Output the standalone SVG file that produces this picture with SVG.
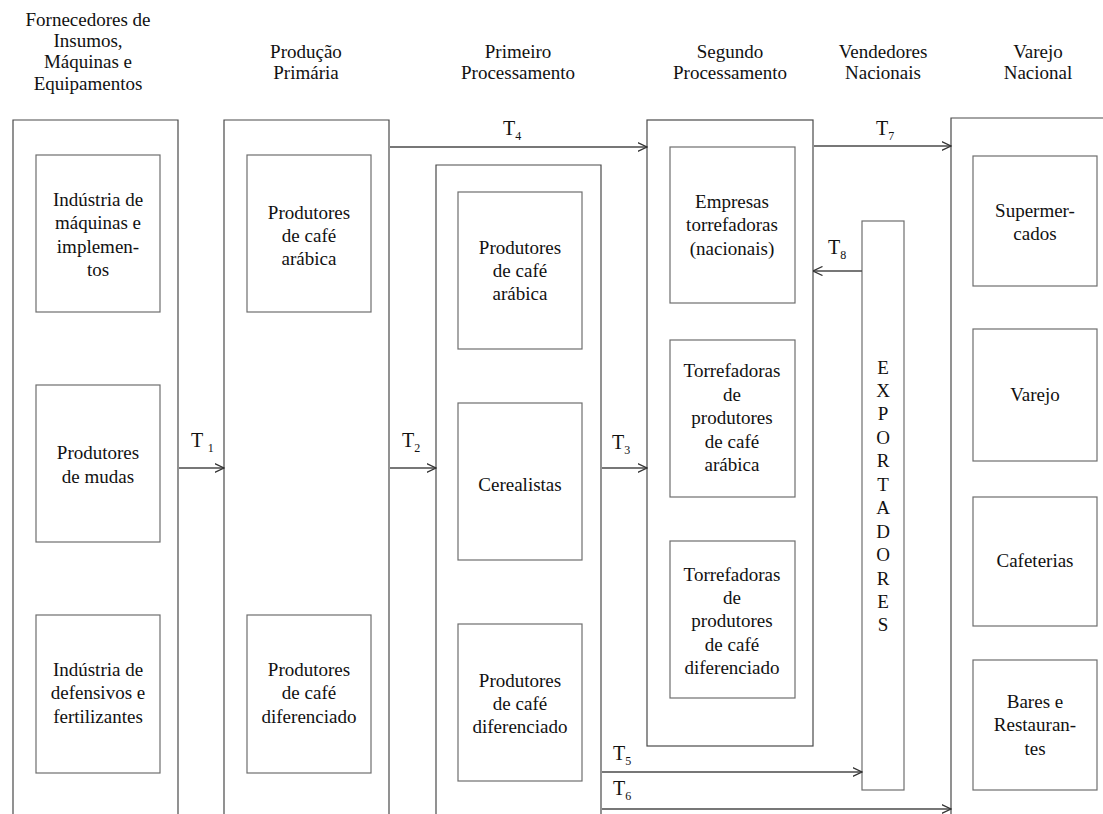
<svg xmlns="http://www.w3.org/2000/svg" width="1103" height="814" viewBox="0 0 1103 814" font-family="'Liberation Serif', Tinos, 'Times New Roman', Times, 'DejaVu Serif', serif">
  <defs>
    <style>
      text { font-family: "Liberation Serif", Tinos, "Times New Roman", Times, "DejaVu Serif", serif; fill: #111111; }
      .hd { font-size: 19px; text-anchor: middle; }
      .bx { font-size: 19px; text-anchor: middle; }
      .lb { font-size: 20px; }
      .sub { font-size: 12px; }
      .outer { fill: none; stroke: #4a4a4a; stroke-width: 1.2; }
      .inner { fill: #ffffff; stroke: #6e6e6e; stroke-width: 1.2; }
      .conn { fill: none; stroke: #4a4a4a; stroke-width: 1.3; marker-end: url(#chev); }
    </style>
    <marker id="chev" viewBox="0 0 10 10" refX="9.5" refY="5" markerWidth="10" markerHeight="10" markerUnits="userSpaceOnUse" orient="auto">
      <path d="M0,0.5 L9.5,5 L0,9.5" fill="none" stroke="#333" stroke-width="1.3"/>
    </marker>
  </defs>
  <rect width="1103" height="814" fill="#ffffff"/>

  <!-- column headings -->
  <g id="headings">
    <text class="hd" x="88" y="26">Fornecedores de</text>
    <text class="hd" x="88" y="47">Insumos,</text>
    <text class="hd" x="88" y="68">Máquinas e</text>
    <text class="hd" x="88" y="90">Equipamentos</text>
    <text class="hd" x="306" y="58">Produção</text>
    <text class="hd" x="306" y="79">Primária</text>
    <text class="hd" x="518" y="58">Primeiro</text>
    <text class="hd" x="518" y="79">Processamento</text>
    <text class="hd" x="730" y="58">Segundo</text>
    <text class="hd" x="730" y="79">Processamento</text>
    <text class="hd" x="883" y="58">Vendedores</text>
    <text class="hd" x="883" y="79">Nacionais</text>
    <text class="hd" x="1038" y="58">Varejo</text>
    <text class="hd" x="1038" y="79">Nacional</text>
  </g>

  <!-- Fornecedores de insumos -->
  <g id="col-fornecedores">
    <path class="outer" d="M13,820 V120 H178 V820"/>
    <g id="n-maquinas">
      <rect class="inner" x="36" y="155" width="124" height="157"/>
      <text class="bx" x="98" y="206">Indústria de</text>
      <text class="bx" x="98" y="229">máquinas e</text>
      <text class="bx" x="98" y="253">implemen-</text>
      <text class="bx" x="98" y="276">tos</text>
    </g>
    <g id="n-mudas">
      <rect class="inner" x="36" y="385" width="124" height="157"/>
      <text class="bx" x="98" y="459">Produtores</text>
      <text class="bx" x="98" y="483">de mudas</text>
    </g>
    <g id="n-defensivos">
      <rect class="inner" x="36" y="615" width="124" height="158"/>
      <text class="bx" x="98" y="676">Indústria de</text>
      <text class="bx" x="98" y="699">defensivos e</text>
      <text class="bx" x="98" y="723">fertilizantes</text>
    </g>
  </g>

  <!-- Produção primária -->
  <g id="col-producao">
    <path class="outer" d="M224,820 V120 H389 V820"/>
    <g id="n-prod-arabica">
      <rect class="inner" x="247" y="155" width="124" height="157"/>
      <text class="bx" x="309" y="219">Produtores</text>
      <text class="bx" x="309" y="242">de café</text>
      <text class="bx" x="309" y="265">arábica</text>
    </g>
    <g id="n-prod-diferenciado">
      <rect class="inner" x="247" y="615" width="124" height="158"/>
      <text class="bx" x="309" y="676">Produtores</text>
      <text class="bx" x="309" y="699">de café</text>
      <text class="bx" x="309" y="723">diferenciado</text>
    </g>
  </g>

  <!-- Primeiro processamento -->
  <g id="col-primeiro">
    <path class="outer" d="M436,820 V165 H601 V820"/>
    <g id="n-p1-arabica">
      <rect class="inner" x="458" y="192" width="124" height="157"/>
      <text class="bx" x="520" y="254">Produtores</text>
      <text class="bx" x="520" y="277">de café</text>
      <text class="bx" x="520" y="300">arábica</text>
    </g>
    <g id="n-cerealistas">
      <rect class="inner" x="458" y="403" width="124" height="157"/>
      <text class="bx" x="520" y="491">Cerealistas</text>
    </g>
    <g id="n-p1-diferenciado">
      <rect class="inner" x="458" y="624" width="124" height="157"/>
      <text class="bx" x="520" y="687">Produtores</text>
      <text class="bx" x="520" y="710">de café</text>
      <text class="bx" x="520" y="733">diferenciado</text>
    </g>
  </g>

  <!-- Segundo processamento -->
  <g id="col-segundo">
    <rect class="outer" x="647" y="120" width="166" height="626"/>
    <g id="n-torrefadoras">
      <rect class="inner" x="670" y="147" width="125" height="156"/>
      <text class="bx" x="732" y="208">Empresas</text>
      <text class="bx" x="732" y="231">torrefadoras</text>
      <text class="bx" x="732" y="255">(nacionais)</text>
    </g>
    <g id="n-torr-arabica">
      <rect class="inner" x="670" y="340" width="125" height="157"/>
      <text class="bx" x="732" y="377">Torrefadoras</text>
      <text class="bx" x="732" y="401">de</text>
      <text class="bx" x="732" y="424">produtores</text>
      <text class="bx" x="732" y="448">de café</text>
      <text class="bx" x="732" y="471">arábica</text>
    </g>
    <g id="n-torr-diferenciado">
      <rect class="inner" x="670" y="541" width="125" height="157"/>
      <text class="bx" x="732" y="581">Torrefadoras</text>
      <text class="bx" x="732" y="604">de</text>
      <text class="bx" x="732" y="627">produtores</text>
      <text class="bx" x="732" y="651">de café</text>
      <text class="bx" x="732" y="674">diferenciado</text>
    </g>
  </g>

  <!-- Exportadores -->
  <g id="n-exportadores">
    <rect class="inner" x="862" y="221" width="42" height="569"/>
    <text class="bx" x="883" y="374">E</text>
    <text class="bx" x="883" y="397">X</text>
    <text class="bx" x="883" y="420">P</text>
    <text class="bx" x="883" y="444">O</text>
    <text class="bx" x="883" y="467">R</text>
    <text class="bx" x="883" y="491">T</text>
    <text class="bx" x="883" y="514">A</text>
    <text class="bx" x="883" y="538">D</text>
    <text class="bx" x="883" y="561">O</text>
    <text class="bx" x="883" y="585">R</text>
    <text class="bx" x="883" y="608">E</text>
    <text class="bx" x="883" y="631">S</text>
  </g>

  <!-- Varejo nacional -->
  <g id="col-varejo">
    <path class="outer" d="M951,820 V118 H1110"/>
    <g id="n-supermercados">
      <rect class="inner" x="973" y="156" width="124" height="130"/>
      <text class="bx" x="1035" y="217">Supermer-</text>
      <text class="bx" x="1035" y="240">cados</text>
    </g>
    <g id="n-varejo">
      <rect class="inner" x="973" y="329" width="124" height="132"/>
      <text class="bx" x="1035" y="401">Varejo</text>
    </g>
    <g id="n-cafeterias">
      <rect class="inner" x="973" y="497" width="124" height="129"/>
      <text class="bx" x="1035" y="567">Cafeterias</text>
    </g>
    <g id="n-bares">
      <rect class="inner" x="973" y="660" width="124" height="130"/>
      <text class="bx" x="1035" y="708">Bares e</text>
      <text class="bx" x="1035" y="731">Restauran-</text>
      <text class="bx" x="1035" y="755">tes</text>
    </g>
  </g>

  <!-- transactions between segments -->
  <g id="connectors">
    <line class="conn" x1="179" y1="468" x2="224" y2="468"/>
    <line class="conn" x1="390" y1="468" x2="436" y2="468"/>
    <line class="conn" x1="602" y1="468" x2="647" y2="468"/>
    <line class="conn" x1="390" y1="147" x2="647" y2="147"/>
    <line class="conn" x1="814" y1="146" x2="951" y2="146"/>
    <line class="conn" x1="862" y1="271" x2="813" y2="271"/>
    <line class="conn" x1="602" y1="772" x2="862" y2="772"/>
    <line class="conn" x1="602" y1="809" x2="951" y2="809"/>

    <text class="lb" x="191" y="447">T <tspan class="sub" dy="5">1</tspan></text>
    <text class="lb" x="402" y="447">T<tspan class="sub" dy="5">2</tspan></text>
    <text class="lb" x="612" y="449">T<tspan class="sub" dy="5">3</tspan></text>
    <text class="lb" x="503" y="135">T<tspan class="sub" dy="5">4</tspan></text>
    <text class="lb" x="613" y="760">T<tspan class="sub" dy="5">5</tspan></text>
    <text class="lb" x="613" y="795">T<tspan class="sub" dy="5">6</tspan></text>
    <text class="lb" x="876" y="135">T<tspan class="sub" dy="5">7</tspan></text>
    <text class="lb" x="828" y="254">T<tspan class="sub" dy="5">8</tspan></text>
  </g>
</svg>
